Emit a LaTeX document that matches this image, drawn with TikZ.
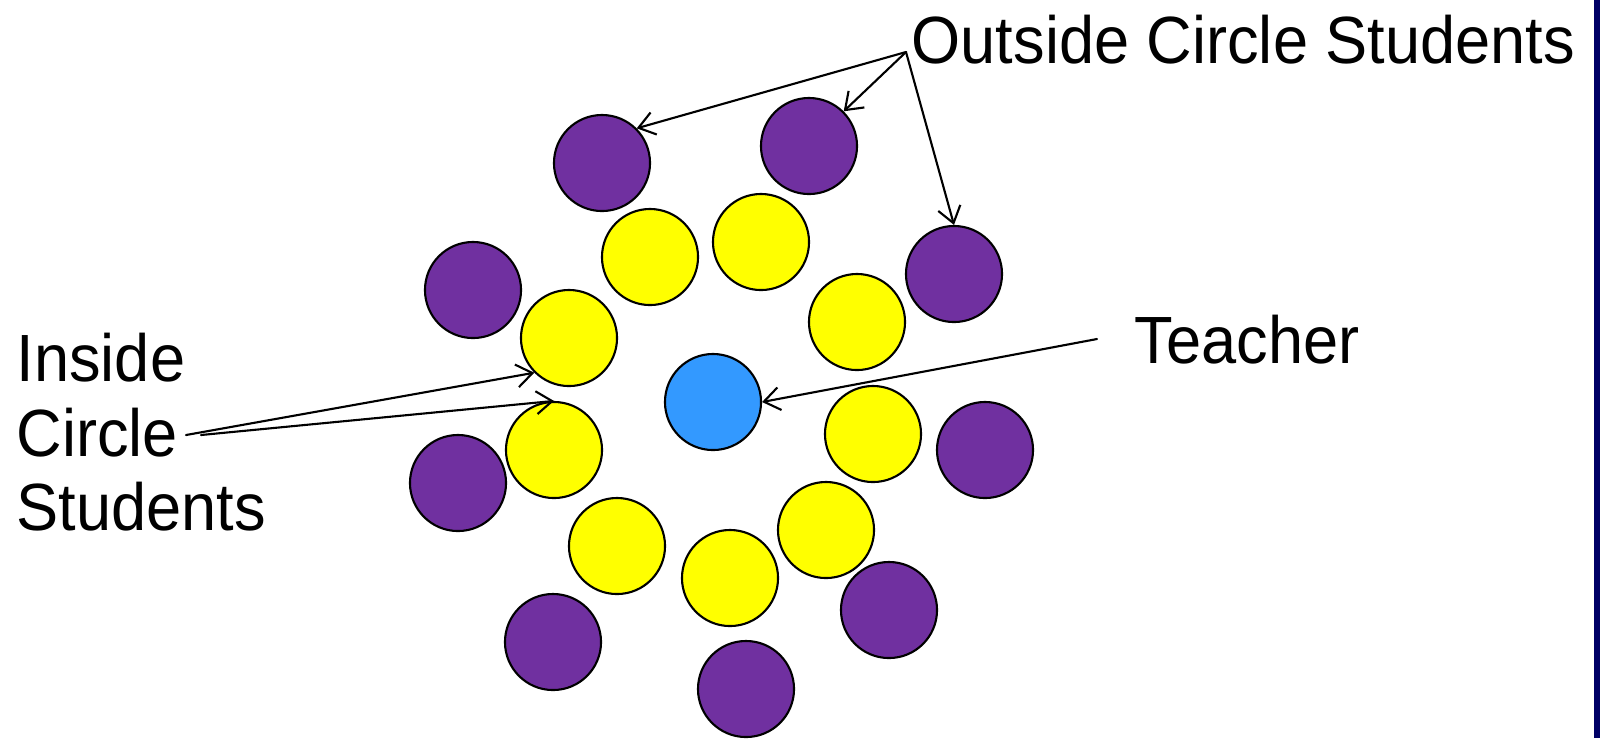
\documentclass[tikz,border=0pt]{standalone}
\usepackage{fontspec}
\setmainfont{Liberation Sans}[FakeStretch=0.945]
\usetikzlibrary{arrows.meta}
\definecolor{outerpurple}{HTML}{7030A0}
\definecolor{inneryellow}{HTML}{FFFF00}
\definecolor{teacherblue}{HTML}{3399FF}
\definecolor{barnavy}{HTML}{000066}
\begin{document}
\begin{tikzpicture}[x=.01cm,y=-.01cm,>={Straight Barb[length=4.5pt,width=6.5pt]},line cap=round,line join=round,
  seat/.style={circle,draw=black,line width=.6pt,minimum size=.96cm,inner sep=0pt},
  outer/.style={seat,fill=outerpurple},
  inner/.style={seat,fill=inneryellow},
  lbl/.style={font=\fontsize{19}{21.3}\selectfont,inner sep=0pt}]
  \useasboundingbox (0,0) rectangle (1600,738);
  \fill[barnavy] (1594,0) rectangle (1600,738);
  \node[outer] (o1) at (602,163) {};
  \node[outer] (o2) at (809,146) {};
  \node[outer] (o3) at (954,274) {};
  \node[outer] (o4) at (473,290) {};
  \node[outer] (o5) at (458,483) {};
  \node[outer] (o6) at (985,450) {};
  \node[outer] (o7) at (553,642) {};
  \node[outer] (o8) at (889,610) {};
  \node[outer] (o9) at (746,689) {};
  \node[inner] (i1) at (650,257) {};
  \node[inner] (i2) at (761,242) {};
  \node[inner] (i3) at (857,322) {};
  \node[inner] (i4) at (569,338) {};
  \node[inner] (i5) at (554,450) {};
  \node[inner] (i6) at (873,434) {};
  \node[inner] (i7) at (617,546) {};
  \node[inner] (i8) at (826,530) {};
  \node[inner] (i9) at (730,578) {};
  \node[seat,fill=teacherblue] (t) at (713,402) {};
  \node[lbl,anchor=base west] (outside) at (911,63) {Outside Circle Students};
  \node[lbl,anchor=base west] (teacher) at (1134,363) {Teacher};
  \node[lbl,anchor=north west,align=left] (inside) at (16,332) {Inside\\Circle\\Students};
  \coordinate (apex) at (906,52);
  \coordinate (tstart) at (1097,339);
  \coordinate (istart) at (186,435);
  \coordinate (istart2) at (201,435);
  \draw[->,line width=.6pt] (apex)--(o1.45);
  \draw[->,line width=.6pt] (apex)--(o2.45);
  \draw[->,line width=.6pt] (apex)--(o3.north);
  \draw[->,line width=.6pt] (tstart)--(t.east);
  \draw[->,line width=.6pt] (istart)--(i4.225);
  \draw[->,line width=.6pt] (istart2)--(i5.north);
\end{tikzpicture}
\end{document}
